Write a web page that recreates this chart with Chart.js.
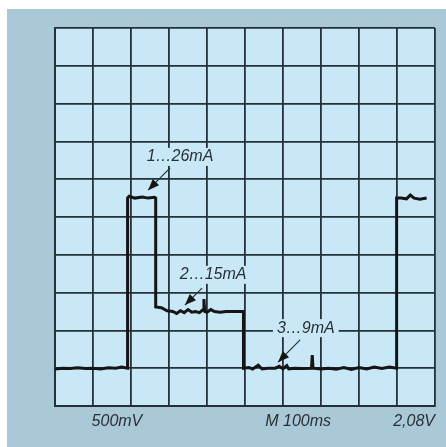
<!DOCTYPE html>
<html lang="en">
<head>
    <meta charset="UTF-8">
    <title>Scope trace</title>
    <style>
        html, body { margin: 0; padding: 0; background: #ffffff; }
        #wrap { width: 446px; height: 447px; }
    </style>
</head>
<body>
    <div id="wrap"><canvas id="chart" width="446" height="447"></canvas></div>

    <script src="https://cdn.jsdelivr.net/npm/chart.js"></script>
    <script>
        // trace in scope divisions (x: 0..10, y: 0..10 from bottom)
        const traceX = [0, 0.2, 0.4, 0.6, 0.8, 1.0, 1.2, 1.4, 1.6, 1.75, 1.91,
            1.91, 1.95, 2.1, 2.3, 2.45, 2.62, 2.65,
            2.65, 2.8, 2.95, 3.1, 3.2, 3.3, 3.4, 3.5, 3.6, 3.7, 3.8, 3.9, 3.92, 3.94, 4.0, 4.1, 4.2, 4.35, 4.5, 4.7, 4.96,
            4.96, 5.1, 5.2, 5.35, 5.45, 5.6, 5.8, 5.9, 6.0, 6.1, 6.15, 6.3, 6.5, 6.75, 6.77, 6.79, 7.0, 7.2, 7.4, 7.6, 7.8, 8.0, 8.2, 8.4, 8.6, 8.8, 8.99,
            8.99, 9.1, 9.25, 9.35, 9.45, 9.6, 9.78];
        const traceY = [0.98, 1.0, 0.99, 1.01, 0.99, 1.0, 0.98, 1.01, 1.0, 1.03, 1.0,
            5.5, 5.55, 5.5, 5.53, 5.5, 5.52, 5.5,
            2.62, 2.6, 2.52, 2.5, 2.45, 2.52, 2.47, 2.55, 2.48, 2.5, 2.47, 2.55, 2.83, 2.5, 2.48, 2.55, 2.5, 2.48, 2.5, 2.5, 2.5,
            1.0, 1.02, 0.98, 1.08, 0.98, 1.0, 1.0, 1.05, 0.98, 1.07, 0.98, 1.0, 0.99, 1.0, 1.35, 1.0, 0.98, 1.0, 0.97, 1.02, 0.97, 1.02, 0.98, 1.03, 0.99, 1.03, 1.0,
            5.5, 5.5, 5.48, 5.58, 5.5, 5.47, 5.5];

        // annotations: label text, label centre, arrow start and tip (divisions)
        const noteText = ['1\u202626mA', '2\u202615mA', '3\u20269mA'];
        const noteX = [3.29, 4.16, 6.6];
        const noteY = [6.59, 3.47, 2.06];
        const arrowFrom = [[3.03, 6.3], [3.87, 3.12], [6.45, 1.75]];
        const arrowTo = [[2.45, 5.71], [3.42, 2.67], [5.87, 1.16]];

        // scope readouts under the screen
        const footText = ['500mV', 'M 100ms', '2,08V'];
        const footX = [1.63, 6.4, 10];
        const footAlign = ['center', 'center', 'right'];

        const panelColor = '#a9c9d8';
        const screenColor = '#c9e8f7';
        const inkColor = '#2a2f34';

        const points = traceX.map((x, i) => ({ x: x, y: traceY[i] }));

        const scopePlugin = {
            id: 'scope',
            beforeDraw(chart) {
                const ctx = chart.ctx;
                const a = chart.chartArea;
                ctx.save();
                ctx.fillStyle = '#ffffff';
                ctx.fillRect(0, 0, chart.width, chart.height);
                ctx.fillStyle = panelColor;
                ctx.fillRect(7, 9, chart.width - 7, chart.height - 9);
                ctx.fillStyle = screenColor;
                ctx.fillRect(a.left, a.top, a.right - a.left, a.bottom - a.top);
                ctx.restore();
            },
            afterDatasetsDraw(chart) {
                const ctx = chart.ctx;
                const xs = chart.scales.x;
                const ys = chart.scales.y;
                ctx.save();
                ctx.font = 'italic 16px "Liberation Sans", Arial, sans-serif';
                ctx.textBaseline = 'middle';
                ctx.textAlign = 'center';
                noteText.forEach((t, i) => {
                    const cx = xs.getPixelForValue(noteX[i]);
                    const cy = ys.getPixelForValue(noteY[i]);
                    const w = ctx.measureText(t).width;
                    ctx.fillStyle = screenColor;
                    ctx.fillRect(cx - w / 2 - 4, cy - 9, w + 8, 18);
                    ctx.fillStyle = inkColor;
                    ctx.fillText(t, cx, cy);

                    const x1 = xs.getPixelForValue(arrowFrom[i][0]);
                    const y1 = ys.getPixelForValue(arrowFrom[i][1]);
                    const x2 = xs.getPixelForValue(arrowTo[i][0]);
                    const y2 = ys.getPixelForValue(arrowTo[i][1]);
                    const ang = Math.atan2(y2 - y1, x2 - x1);
                    ctx.strokeStyle = inkColor;
                    ctx.lineWidth = 1.2;
                    ctx.beginPath();
                    ctx.moveTo(x1, y1);
                    ctx.lineTo(x2, y2);
                    ctx.stroke();
                    ctx.fillStyle = '#151515';
                    ctx.beginPath();
                    ctx.moveTo(x2, y2);
                    ctx.lineTo(x2 - 12 * Math.cos(ang - 0.38), y2 - 12 * Math.sin(ang - 0.38));
                    ctx.lineTo(x2 - 12 * Math.cos(ang + 0.38), y2 - 12 * Math.sin(ang + 0.38));
                    ctx.closePath();
                    ctx.fill();
                });

                ctx.fillStyle = inkColor;
                const fy = chart.chartArea.bottom + 16;
                footText.forEach((t, i) => {
                    ctx.textAlign = footAlign[i];
                    ctx.fillText(t, xs.getPixelForValue(footX[i]), fy);
                });
                ctx.restore();
            }
        };

        const axis = (max) => ({
            type: 'linear',
            min: 0,
            max: max,
            ticks: { display: false, stepSize: 1 },
            grid: { color: '#25303a', lineWidth: 1.8, drawTicks: false, tickLength: 0 },
            border: { display: true, color: '#25303a', width: 2 }
        });

        new Chart(document.getElementById('chart').getContext('2d'), {
            type: 'line',
            data: {
                datasets: [{
                    data: points,
                    borderColor: '#151515',
                    borderWidth: 3,
                    pointRadius: 0,
                    tension: 0,
                    fill: false
                }]
            },
            options: {
                responsive: false,
                animation: false,
                layout: { padding: { left: 55, right: 11, top: 28, bottom: 41 } },
                plugins: { legend: { display: false }, tooltip: { enabled: false } },
                scales: { x: axis(10), y: axis(10) }
            },
            plugins: [scopePlugin]
        });
    </script>
</body>
</html>
